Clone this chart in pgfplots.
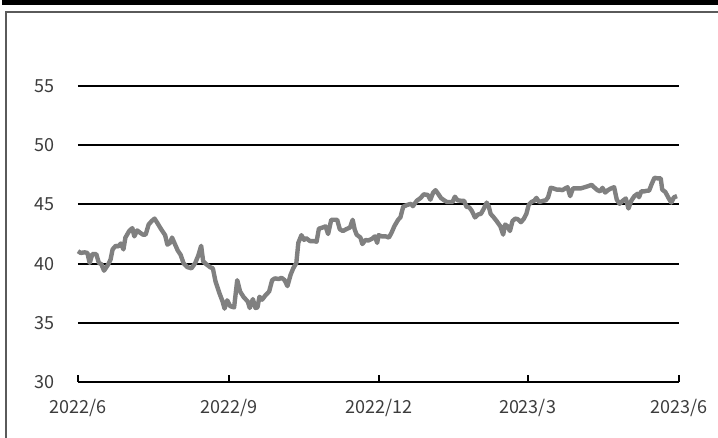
\documentclass[border=0pt]{standalone}
\usepackage{fontspec}
\setmainfont{Noto Sans CJK JP}
\usepackage{pgfplots}
\pgfplotsset{compat=1.18}
\definecolor{linegray}{RGB}{128,128,128}
\definecolor{textgray}{RGB}{60,60,60}
\definecolor{framegray}{RGB}{90,90,90}

\begin{document}
\begin{tikzpicture}
\useasboundingbox (-58.5pt,-42pt) rectangle (480pt,286.5pt);
% top rule and frame
\fill[black] (-57pt,282.75pt) rectangle (480pt,286.5pt);
\draw[framegray, line width=1.1pt] (-54pt,-42pt) -- (-54pt,277.5pt) -- (480pt,277.5pt);
\begin{axis}[
  at={(0pt,0pt)}, anchor=south west,
  scale only axis, width=450.75pt, height=222pt,
  xmin=0, xmax=365, ymin=30, ymax=55,
  axis lines*=left,
  y axis line style={draw=none},
  x axis line style={line width=1.5pt},
  xtick={0,92,183,273,365},
  xticklabels={2022/6,2022/9,2022/12,2023/3,2023/6},
  ytick={30,35,...,55},
  tick align=inside,
  major tick length=5.25pt,
  xtick style={line width=1.5pt, black},
  ytick style={draw=none},
  ymajorgrids,
  grid style={black, line width=1.4pt},
  ticklabel style={font=\fontsize{13.5}{16}\selectfont, text=textgray},
  yticklabel style={xshift=-14pt},
  xticklabel style={yshift=-9.5pt},
  /pgf/number format/assume math mode=true,
  clip=false,
]
\addplot[linegray, line width=3.3pt, line join=round] table {
0 41.05
1.65 40.9
4.0 40.95
5.7 40.9
7.1 40.05
8.7 40.8
11.1 40.8
12.7 40.05
14.2 39.95
15.8 39.4
18.2 39.9
19.8 40.35
21.0 41.2
22.9 41.5
24.5 41.45
26.0 41.7
27.6 41.2
28.8 42.2
31.1 42.75
33.0 43.0
34.2 42.3
35.9 42.8
37.8 42.6
39.4 42.45
41.1 42.45
42.9 43.3
44.8 43.6
46.5 43.8
48.1 43.45
50.5 42.9
52.9 42.4
54.3 41.6
55.9 41.75
57.1 42.2
59.0 41.6
60.6 41.1
62.3 40.75
64.2 40.0
66.5 39.7
68.9 39.6
71.2 40.05
73.1 40.7
74.8 41.5
76.0 40.2
77.9 39.95
80.2 39.7
81.9 39.6
83.5 38.5
85.9 37.5
87.8 36.8
89.0 36.2
90.6 36.9
92.5 36.4
94.8 36.3
96.7 38.6
98.4 37.65
100.7 37.15
103.1 36.8
104.3 36.25
106.2 37.0
107.8 36.25
109.0 36.3
110.2 37.2
111.8 36.95
113.7 37.3
116.1 37.65
117.9 38.6
119.6 38.75
122.0 38.7
123.6 38.8
125.5 38.6
127.2 38.1
129.1 39.05
130.7 39.6
132.6 40.05
133.8 41.75
135.7 42.4
137.3 42.0
138.5 42.15
140.9 41.9
143.2 41.9
144.9 41.85
146.3 42.95
148.6 43.05
150.3 43.15
151.9 42.5
153.8 43.7
156.2 43.7
157.4 43.7
159.0 42.9
160.9 42.75
162.8 42.9
165.2 43.05
166.8 43.7
168.0 42.9
169.2 42.45
171.5 42.2
172.7 41.65
174.6 42.0
176.3 41.95
178.6 42.1
180.3 42.3
181.7 41.75
182.6 42.4
184.5 42.3
186.9 42.3
188.8 42.2
190.4 42.6
192.1 43.15
194.4 43.7
195.8 43.9
197.5 44.8
199.8 44.95
202.2 45.05
203.4 44.85
205.7 45.3
208.1 45.55
210.0 45.85
212.4 45.8
214.0 45.4
215.7 46.0
217.1 46.2
218.7 45.9
220.4 45.55
222.3 45.35
224.1 45.2
225.8 45.2
227.4 45.2
228.9 45.65
230.5 45.35
232.9 45.3
234.5 45.3
235.9 44.8
237.6 44.75
239.2 44.45
241.1 43.9
243.0 44.15
244.7 44.2
246.3 44.6
248.2 45.15
249.4 44.85
250.6 44.2
252.5 43.9
254.2 43.6
256.5 43.15
258.2 42.45
259.4 43.3
260.9 43.15
262.3 42.75
263.9 43.6
265.6 43.8
267.1 43.75
269.0 43.5
270.6 43.75
272.3 44.2
273.7 44.95
275.3 45.2
277.0 45.3
278.4 45.55
280.1 45.2
282.4 45.3
284.1 45.35
285.5 45.6
287.1 46.4
288.8 46.35
290.7 46.25
292.6 46.25
294.2 46.2
295.9 46.35
297.3 46.45
298.9 45.7
300.6 46.35
302.9 46.35
305.3 46.35
307.7 46.45
310.0 46.55
311.9 46.65
313.8 46.4
315.5 46.2
317.1 46.1
318.5 46.4
320.2 46.0
321.8 46.2
323.7 46.35
325.6 46.45
327.2 45.4
328.9 45.05
330.8 45.3
332.7 45.5
334.3 44.65
336.0 45.3
337.9 45.7
339.8 45.9
340.7 45.6
342.1 46.1
343.8 46.1
345.4 46.15
346.8 46.15
348.5 46.75
350.1 47.25
352.0 47.2
353.9 47.2
354.8 46.25
356.7 46.05
358.6 45.55
360.3 45.15
361.9 45.6
363.8 45.7
};
\end{axis}
\end{tikzpicture}
\end{document}
